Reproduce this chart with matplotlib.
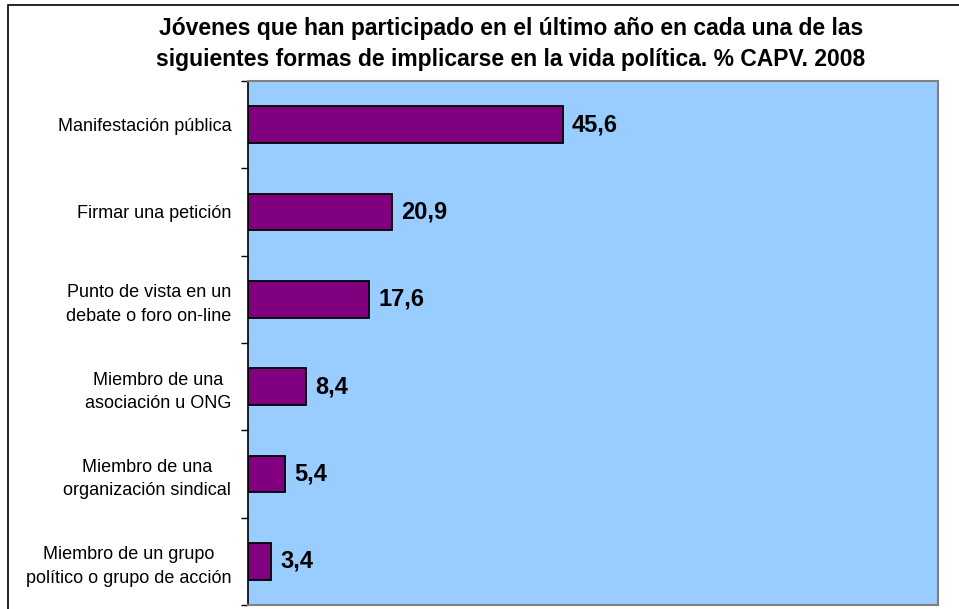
import matplotlib
matplotlib.use('Agg')
import matplotlib.pyplot as plt
from matplotlib.patches import Rectangle

categories = ['Manifestación pública',
              'Firmar una petición',
              'Punto de vista en un\ndebate o foro on-line',
              'Miembro de una\nasociación u ONG',
              'Miembro de una\norganización sindical',
              'Miembro de un grupo\npolítico o grupo de acción']
values = [45.6, 20.9, 17.6, 8.4, 5.4, 3.4]
value_labels = ['45,6', '20,9', '17,6', '8,4', '5,4', '3,4']
title = ('Jóvenes que han participado en el último año en cada una de las\n'
         'siguientes formas de implicarse en la vida política. % CAPV. 2008')

plt.rcParams['font.family'] = ['Liberation Sans', 'DejaVu Sans']

W, H = 959, 609
fig = plt.figure(figsize=(W / 100, H / 100), dpi=100)
fig.patch.set_facecolor('white')

# outer chart border (only top and left visible in the original)
fig.patches.append(Rectangle((8 / W, -0.1), 1.2, 1 - 4.5 / H + 0.1,
                             transform=fig.transFigure, fill=False,
                             edgecolor='black', linewidth=1.2))

ax = fig.add_axes([248 / W, 1 - 605 / H, (938 - 248) / W, (605 - 81) / H])
ax.set_facecolor('#99CCFF')

ypos = list(range(len(categories)))
ax.barh(ypos, values, height=0.42, color='#800080', edgecolor='black', linewidth=1.3)

for y, v, lab in zip(ypos, values, value_labels):
    ax.annotate(lab, (v, y), xytext=(6.5, 0), textcoords='offset points',
                ha='left', va='center', fontsize=17, fontweight='bold', color='black')

ax.set_xlim(0, 100)
ax.set_ylim(len(categories) - 0.5, -0.5)
ax.set_xticks([])
ax.set_yticks([y - 0.5 for y in ypos] + [len(categories) - 0.5])
ax.set_yticklabels([])
ax.set_yticks(ypos, minor=True)
ax.set_yticklabels(categories, minor=True, fontsize=13, linespacing=1.48,
                   multialignment='center')
ax.tick_params(axis='y', which='major', direction='out', length=5, width=1, color='black')
ax.tick_params(axis='y', which='minor', length=0, pad=12)

ax.spines['left'].set_color('black')
ax.spines['left'].set_linewidth(1.2)
for s in ['top', 'right', 'bottom']:
    ax.spines[s].set_color('#808080')
    ax.spines[s].set_linewidth(1.5)

fig.text(511 / W, 1 - 44 / H, title, ha='center', va='center', fontsize=16.5,
         fontweight='bold', linespacing=1.41)

fig.savefig('out.png', dpi=100)
